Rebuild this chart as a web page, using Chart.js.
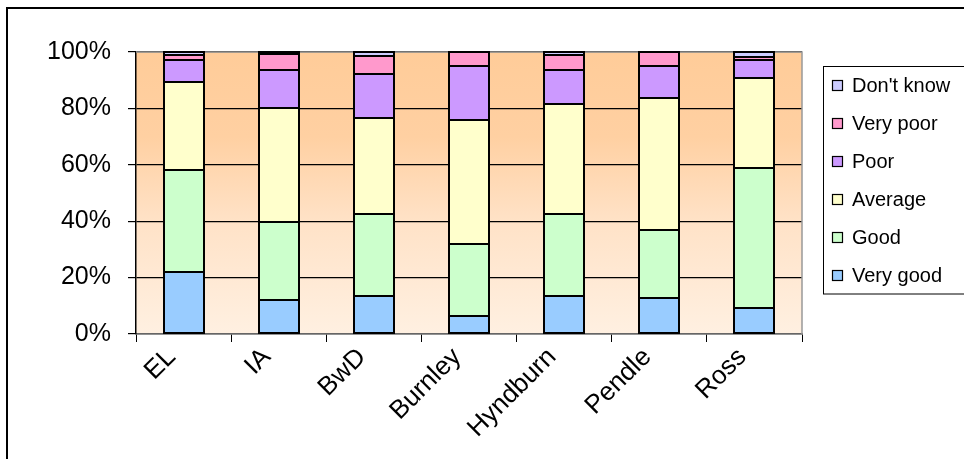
<!DOCTYPE html>
<html>
<head>
  <title>Rating by area</title>
  <style>
    body {
      margin: 0;
      padding: 0;
      background-color: #fff;
    }
    canvas {
      display: block;
    }
  </style>
</head>
<body>

<canvas id="ratingChart" width="964" height="459"></canvas>

<script src="https://cdn.jsdelivr.net/npm/chart.js"></script>
<script>
  // Data (percent of responses per area)
  const areas = ['EL', 'IA', 'BwD', 'Burnley', 'Hyndburn', 'Pendle', 'Ross'];
  const veryGood = [22.0, 12.1, 13.5, 6.4, 13.5, 12.9, 9.2];
  const good     = [36.0, 27.6, 29.1, 25.5, 29.1, 23.9, 49.7];
  const average  = [31.4, 40.3, 33.9, 44.0, 39.0, 46.8, 31.9];
  const poor     = [7.8, 13.5, 15.7, 19.1, 12.0, 11.3, 6.5];
  const veryPoor = [1.8, 5.9, 6.3, 5.0, 5.5, 5.1, 1.1];
  const dontKnow = [1.0, 0.6, 1.5, 0.0, 0.9, 0.0, 1.6];
  const yTicks = [0, 20, 40, 60, 80, 100];

  const FONT = '"Liberation Sans", Arial, sans-serif';

  function series(label, data, color) {
    return {
      label: label,
      data: data,
      backgroundColor: color,
      borderWidth: 0,
      inflateAmount: 0,
      barPercentage: 0.42,
      categoryPercentage: 1.0
    };
  }

  // gradient background, outer frame
  const plotBackground = {
    id: 'plotBackground',
    beforeDraw(chart) {
      const ctx = chart.ctx;
      const a = chart.chartArea;
      ctx.save();
      const g = ctx.createLinearGradient(0, a.top, 0, a.bottom);
      g.addColorStop(0, '#FFCC99');
      g.addColorStop(0.3, '#FFD0A2');
      g.addColorStop(0.6, '#FFE2C7');
      g.addColorStop(1, '#FFF0E1');
      ctx.fillStyle = g;
      ctx.fillRect(a.left, a.top, a.right - a.left, a.bottom - a.top);
      ctx.strokeStyle = '#000';
      ctx.lineWidth = 2;
      ctx.strokeRect(7, 8, 1100, 1100);
      ctx.restore();
    }
  };

  // grey plot border + crisp black outline round every bar segment
  const barOutlines = {
    id: 'barOutlines',
    afterDatasetsDraw(chart) {
      const ctx = chart.ctx;
      const a = chart.chartArea;
      ctx.save();
      ctx.strokeStyle = '#999';
      ctx.lineWidth = 1.5;
      ctx.beginPath();
      ctx.moveTo(a.left, a.top);
      ctx.lineTo(a.right, a.top);
      ctx.lineTo(a.right, a.bottom);
      ctx.stroke();

      ctx.strokeStyle = '#000';
      ctx.lineWidth = 2;
      chart.data.datasets.forEach((ds, i) => {
        chart.getDatasetMeta(i).data.forEach((bar) => {
          const p = bar.getProps(['x', 'y', 'base', 'width'], true);
          const l = Math.round(p.x - p.width / 2);
          const r = Math.round(p.x + p.width / 2);
          const t = Math.round(Math.min(p.y, p.base));
          const b = Math.round(Math.max(p.y, p.base));
          if (b - t < 0.5) return;
          ctx.strokeRect(l, t, r - l, b - t);
        });
      });
      ctx.restore();
    }
  };

  // boxed legend, reverse order
  const boxedLegend = {
    id: 'boxedLegend',
    afterDraw(chart) {
      const ctx = chart.ctx;
      const sets = chart.data.datasets.slice().reverse();
      ctx.save();
      ctx.strokeStyle = '#000';
      ctx.lineWidth = 1;
      ctx.strokeRect(823.5, 66.5, 200, 227.5);
      ctx.font = '20px ' + FONT;
      ctx.textBaseline = 'middle';
      sets.forEach((ds, i) => {
        const cy = 86 + i * 38;
        ctx.fillStyle = ds.backgroundColor;
        ctx.fillRect(832, cy - 6, 11, 11);
        ctx.strokeStyle = '#000';
        ctx.lineWidth = 1.2;
        ctx.strokeRect(832.5, cy - 5.5, 10, 10);
        ctx.fillStyle = '#000';
        ctx.fillText(ds.label, 852, cy);
      });
      ctx.restore();
    }
  };

  const ctx = document.getElementById('ratingChart').getContext('2d');
  new Chart(ctx, {
    type: 'bar',
    data: {
      labels: areas,
      datasets: [
        series('Very good', veryGood, '#99CCFF'),
        series('Good', good, '#CCFFCC'),
        series('Average', average, '#FFFFCC'),
        series('Poor', poor, '#CC99FF'),
        series('Very poor', veryPoor, '#FF99CC'),
        series("Don't know", dontKnow, '#CCCCFF')
      ]
    },
    options: {
      responsive: false,
      animation: false,
      layout: {
        padding: { left: 0, top: 52, right: 162, bottom: 0 }
      },
      plugins: {
        legend: { display: false },
        tooltip: { enabled: false }
      },
      scales: {
        x: {
          stacked: true,
          afterFit: (scale) => { scale.height = 125; },
          grid: {
            offset: true,
            drawOnChartArea: false,
            drawTicks: true,
            tickLength: 8,
            color: '#000'
          },
          border: { color: '#666', width: 1.5 },
          ticks: {
            color: '#000',
            font: { family: FONT, size: 26 },
            minRotation: 45,
            maxRotation: 45,
            padding: 0,
            labelOffset: -12,
            autoSkip: false
          }
        },
        y: {
          stacked: true,
          min: 0,
          max: 100,
          afterFit: (scale) => { scale.width = 136; },
          afterBuildTicks: (scale) => {
            scale.ticks = yTicks.map(v => ({ value: v }));
          },
          grid: {
            color: '#000',
            lineWidth: 1.2,
            tickLength: 8
          },
          border: { color: '#000', width: 1.5 },
          ticks: {
            color: '#000',
            font: { family: FONT, size: 25 },
            padding: 17,
            callback: (v) => v + '%'
          }
        }
      }
    },
    plugins: [plotBackground, barOutlines, boxedLegend]
  });
</script>

</body>
</html>
